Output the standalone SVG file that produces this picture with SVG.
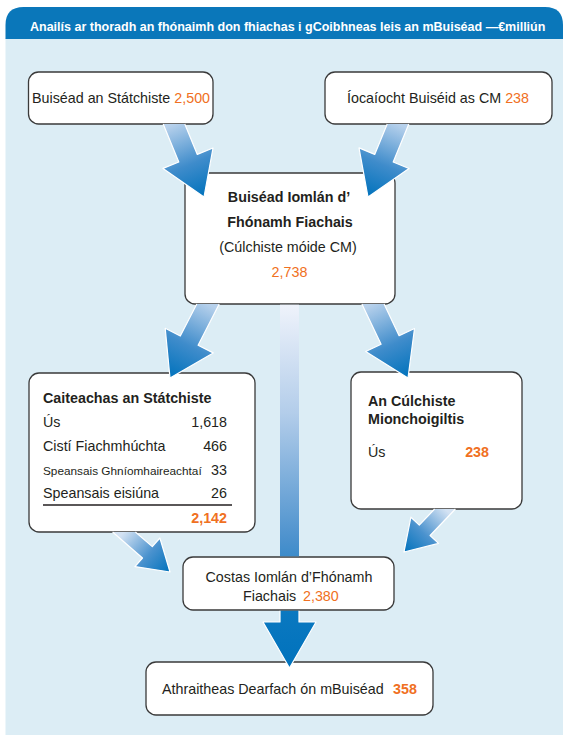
<svg xmlns="http://www.w3.org/2000/svg" width="563" height="735" viewBox="0 0 563 735">
<style>
text{font-family:"Liberation Sans",Arial,sans-serif;fill:#231f20;font-size:14.3px}
.b{font-weight:bold}
.o{fill:#f07022}
.t{fill:#fff;font-weight:bold;font-size:12.5px}
.s{font-size:11.8px}
.m{text-anchor:middle}
.e{text-anchor:end}
.box{fill:#fff;stroke:#3a3a3a;stroke-width:1.3}
.arr{stroke:#fff;stroke-width:1.2;stroke-linejoin:round}
</style>
<defs>
<linearGradient id="gA1" gradientUnits="userSpaceOnUse" x1="174" y1="124" x2="204" y2="197"><stop offset="0" stop-color="#b7d1ec"/><stop offset="0.55" stop-color="#3f8ccb"/><stop offset="1" stop-color="#0072bc"/></linearGradient>
<linearGradient id="gA2" gradientUnits="userSpaceOnUse" x1="398" y1="124" x2="368" y2="197"><stop offset="0" stop-color="#b7d1ec"/><stop offset="0.55" stop-color="#3f8ccb"/><stop offset="1" stop-color="#0072bc"/></linearGradient>
<linearGradient id="gA3" gradientUnits="userSpaceOnUse" x1="208" y1="304" x2="170" y2="378"><stop offset="0" stop-color="#b7d1ec"/><stop offset="0.55" stop-color="#3f8ccb"/><stop offset="1" stop-color="#0072bc"/></linearGradient>
<linearGradient id="gA4" gradientUnits="userSpaceOnUse" x1="373" y1="304" x2="408" y2="378"><stop offset="0" stop-color="#b7d1ec"/><stop offset="0.55" stop-color="#3f8ccb"/><stop offset="1" stop-color="#0072bc"/></linearGradient>
<linearGradient id="gA5" gradientUnits="userSpaceOnUse" x1="124" y1="532" x2="170" y2="572"><stop offset="0" stop-color="#d3e2f3"/><stop offset="0.55" stop-color="#4a92ce"/><stop offset="1" stop-color="#0072bc"/></linearGradient>
<linearGradient id="gA6" gradientUnits="userSpaceOnUse" x1="445" y1="509" x2="404" y2="552"><stop offset="0" stop-color="#d3e2f3"/><stop offset="0.55" stop-color="#4a92ce"/><stop offset="1" stop-color="#0072bc"/></linearGradient>
<linearGradient id="gA7" gradientUnits="userSpaceOnUse" x1="0" y1="304" x2="0" y2="668"><stop offset="0" stop-color="#eff3fb"/><stop offset="0.3" stop-color="#b3cdea"/><stop offset="0.65" stop-color="#4b91cd"/><stop offset="0.85" stop-color="#0a78c0"/><stop offset="1" stop-color="#0072bc"/></linearGradient>
</defs>

<g id="panel">
<path d="M5.5,38 V735 H563 V38 Z" fill="#dcedf5"/>
<path d="M5.5,39 V25 Q5.5,7 23.5,7 H545 Q563,7 563,25 V39 Z" fill="#0a77ba"/>
<text class="t" x="30" y="31">Anailís ar thoradh an fhónaimh don fhiachas i gCoibhneas leis an mBuiséad —€milliún</text>
</g>

<g id="node-buisead-statchiste">
<rect class="box" x="28.5" y="72" width="184.5" height="52" rx="10"/>
<text x="32" y="103">Buiséad an Státchiste <tspan class="o">2,500</tspan></text>
</g>

<g id="node-iocaiocht">
<rect class="box" x="325" y="72" width="227" height="52" rx="10"/>
<text x="347" y="103">Íocaíocht Buiséid as CM <tspan class="o">238</tspan></text>
</g>

<g id="node-buisead-iomlan">
<rect class="box" x="185" y="173" width="210" height="131" rx="10"/>
<text class="b m" x="289" y="202">Buiséad Iomlán d’</text>
<text class="b m" x="290" y="227">Fhónamh Fiachais</text>
<text class="m" x="288" y="252">(Cúlchiste móide CM)</text>
<text class="o m" x="289.5" y="277">2,738</text>
</g>

<g id="node-caiteachas">
<rect class="box" x="29" y="373" width="226" height="159" rx="10"/>
<text class="b" x="43" y="403">Caiteachas an Státchiste</text>
<text x="43" y="427">Ús</text>
<text class="e" x="227" y="427">1,618</text>
<text x="43" y="451">Cistí Fiachmhúchta</text>
<text class="e" x="227" y="451">466</text>
<text class="s" x="43" y="475">Speansais Ghníomhaireachtaí</text>
<text class="e" x="227" y="475">33</text>
<text x="43" y="498">Speansais eisiúna</text>
<text class="e" x="227" y="498">26</text>
<line x1="43" y1="505" x2="232" y2="505" stroke="#231f20" stroke-width="1.3"/>
<text class="b o e" x="227" y="523">2,142</text>
</g>

<g id="node-culchiste">
<rect class="box" x="351" y="372" width="171" height="137" rx="10"/>
<text class="b" x="368" y="406">An Cúlchiste</text>
<text class="b" x="368" y="424">Mionchoigiltis</text>
<text x="368" y="457">Ús</text>
<text class="b o e" x="489" y="457">238</text>
</g>

<g id="node-costas">
<rect class="box" x="183" y="557" width="211" height="53" rx="10"/>
<text class="m" x="289" y="582">Costas Iomlán d’Fhónamh</text>
<text x="243" y="601">Fiachais</text>
<text class="o" x="303" y="601">2,380</text>
</g>

<g id="node-athraitheas">
<rect class="box" x="146" y="662" width="287" height="53" rx="10"/>
<text x="162" y="694">Athraitheas Dearfach ón mBuiséad</text>
<text class="b o" x="393" y="694">358</text>
</g>

<g id="connectors">
<path class="arr" fill="url(#gA1)" d="M163.2,124 L178.8,162.0 L163.0,168.4 L204,197 L213.0,148.0 L197.3,154.4 L184.8,124"/>
<path class="arr" fill="url(#gA2)" d="M387.2,124 L374.7,154.4 L359.0,147.9 L368,197 L409.0,168.5 L393.2,162.0 L408.8,124"/>
<path class="arr" fill="url(#gA3)" d="M196.8,304 L180.3,336.0 L165.2,328.3 L170,378 L213.2,352.9 L198.1,345.2 L219.2,304"/>
<path class="arr" fill="url(#gA4)" d="M361.9,304 L381.1,344.3 L365.7,351.5 L408,378 L414.5,328.5 L399.1,335.7 L384.1,304"/>
<path class="arr" fill="url(#gA5)" d="M112.6,532 L142.5,558.0 L134.9,566.6 L170,572 L159.9,538.0 L152.3,546.6 L135.4,532"/>
<path class="arr" fill="url(#gA6)" d="M434.6,509 L419.3,525.1 L410.9,517.2 L404,552 L438.5,543.4 L430.1,535.5 L455.4,509"/>
<rect x="280" y="304.7" width="19" height="251.6" fill="url(#gA7)"/>
<path class="arr" fill="url(#gA7)" d="M280,610.7 L280,622 L263,622 L289.5,668 L316,622 L299,622 L299,610.7"/>
</g>
</svg>
